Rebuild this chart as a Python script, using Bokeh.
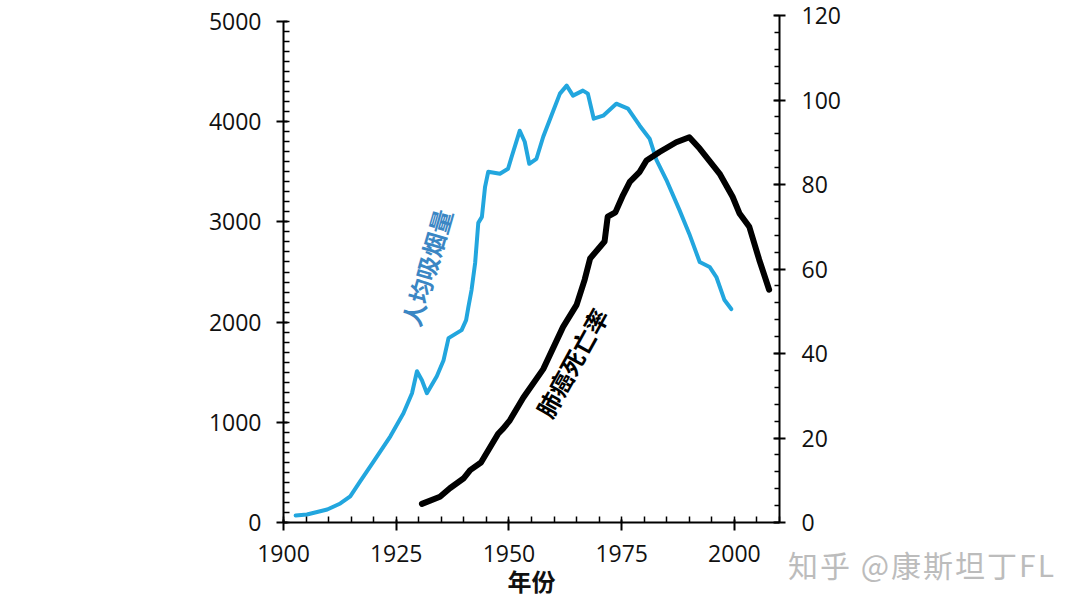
from bokeh.plotting import figure
from bokeh.models import Range1d, LinearAxis, FixedTicker, Label, Div
from bokeh.layouts import column
from bokeh.embed import file_html
from bokeh.resources import INLINE

# ---- data ----
smoke_years = [1902.7, 1905.2, 1909.7, 1912.6, 1914.8, 1917.0, 1920.0, 1923.7, 1926.6, 1928.5,
               1929.6, 1930.7, 1931.8, 1934.0, 1935.5, 1936.6, 1939.5, 1940.5, 1941.0, 1941.7,
               1942.5, 1943.2, 1944.0, 1944.7, 1945.4, 1948.0, 1949.8, 1950.6, 1952.4, 1953.5,
               1954.5, 1956.1, 1957.6, 1959.4, 1961.3, 1962.8, 1964.2, 1966.4, 1967.5, 1968.8,
               1970.9, 1973.8, 1976.4, 1979.0, 1981.2, 1982.7, 1984.9, 1987.8, 1990.0, 1992.3,
               1994.5, 1996.0, 1997.8, 1999.3]
smoke_per_capita = [70, 80, 130, 190, 260, 410, 610, 860, 1090, 1290,
                    1510, 1420, 1290, 1460, 1620, 1840, 1920, 2020, 2150, 2320,
                    2590, 2990, 3050, 3350, 3500, 3480, 3530, 3650, 3910, 3800,
                    3580, 3630, 3850, 4060, 4280, 4360, 4260, 4310, 4280, 4030,
                    4060, 4180, 4130, 3960, 3830, 3620, 3420, 3120, 2880, 2600,
                    2550, 2450, 2220, 2130]

cancer_years = [1930.7, 1934.7, 1936.9, 1939.9, 1941.4, 1943.8, 1947.6, 1948.7, 1950.2, 1953.2,
                1957.6, 1962.0, 1965.0, 1966.8, 1968.0, 1969.6, 1971.2, 1971.9, 1973.6, 1975.3,
                1976.8, 1979.0, 1980.5, 1983.4, 1987.1, 1990.0, 1992.3, 1996.7, 1999.6, 2001.1,
                2003.3, 2005.5, 2007.7]
cancer_rate = [4.4, 6.1, 8.1, 10.4, 12.4, 14.2, 21.0, 22.2, 24.2, 29.6,
               36.3, 46.3, 51.5, 57.5, 62.5, 64.5, 66.5, 72.4, 73.4, 77.5,
               80.6, 83.0, 85.7, 87.7, 90.0, 91.2, 88.5, 82.6, 77.1, 73.2,
               70.0, 62.2, 55.1]

x_ticks = [1900, 1925, 1950, 1975, 2000]
left_ticks = [0, 1000, 2000, 3000, 4000, 5000]
right_ticks = [0, 20, 40, 60, 80, 100, 120]

smoke_label = "人均吸烟量"
cancer_label = "肺癌死亡率"
x_title = "年份"
watermark = "知乎 @康斯坦丁FL"

FONT = "Open Sans"
CJK = "Noto Sans CJK SC"

W, H = 1072, 600
FRAME_L, FRAME_R, FRAME_T, FRAME_B = 283, 779, 15, 522
left_max = 5000 * (FRAME_B - FRAME_T) / (FRAME_B - 21)

p = figure(width=W, height=H, output_backend="svg", toolbar_location=None,
           x_range=Range1d(1900, 2010), y_range=Range1d(0, left_max),
           min_border_left=FRAME_L, min_border_right=W - FRAME_R,
           min_border_top=FRAME_T, min_border_bottom=H - FRAME_B)
p.outline_line_color = None
p.xgrid.visible = False
p.ygrid.visible = False
p.background_fill_color = "white"
p.border_fill_color = "white"

p.extra_y_ranges = {"right": Range1d(0, 120)}

# bottom axis
xa = p.xaxis[0]
xa.ticker = FixedTicker(ticks=x_ticks, minor_ticks=list(range(1900, 2011, 5)))
xa.bounds = (1900, 2010)
xa.axis_label = x_title
xa.axis_label_text_font = CJK
xa.axis_label_text_font_style = "bold"
xa.axis_label_text_font_size = "24px"
xa.axis_label_text_color = "#111111"
xa.axis_label_standoff = -2

# left axis
ya = p.yaxis[0]
ya.ticker = FixedTicker(ticks=left_ticks, minor_ticks=list(range(0, 5001, 100)))
ya.bounds = (0, 5000)

# right axis
ra = LinearAxis(y_range_name="right",
                ticker=FixedTicker(ticks=right_ticks, minor_ticks=list(range(0, 121, 4))))
ra.bounds = (0, 120)
p.add_layout(ra, "right")

for ax in (xa, ya, ra):
    ax.axis_line_width = 2
    ax.axis_line_color = "black"
    ax.major_tick_line_width = 2
    ax.minor_tick_line_width = 1.5
    ax.major_tick_line_color = "black"
    ax.minor_tick_line_color = "black"
    ax.major_label_text_font = FONT
    ax.major_label_text_font_size = "23px"
    ax.major_label_text_color = "#111111"

xa.major_tick_out = 8
xa.major_tick_in = 3
xa.minor_tick_in = 6
xa.minor_tick_out = 0
xa.major_label_standoff = 14

ya.major_tick_out = 7
ya.major_tick_in = 4
ya.minor_tick_in = 6
ya.minor_tick_out = 0
ya.major_label_standoff = 15

ra.major_tick_out = 6
ra.major_tick_in = 6
ra.minor_tick_in = 5
ra.minor_tick_out = 0
ra.major_label_standoff = 16

# lines
p.line(smoke_years, smoke_per_capita, line_color="#22a6de", line_width=4,
       line_join="round", line_cap="round")
p.line(cancer_years, cancer_rate, y_range_name="right", line_color="black", line_width=6,
       line_join="round", line_cap="round")

# curve labels
p.add_layout(Label(x=1931.7, y=2545, text=smoke_label, angle=1.29,
                   text_font=CJK, text_font_size="24px", text_font_style="bold",
                   text_color="#3a86c4", text_align="center", text_baseline="middle"))
p.add_layout(Label(x=1963.9, y=1597, text=cancer_label, angle=1.065,
                   text_font=CJK, text_font_size="24px", text_font_style="bold",
                   text_color="black", text_align="center", text_baseline="middle"))

# watermark (outside the plot frame, so as an HTML element pulled up over the figure)
wm = Div(text=watermark, width=280, height=40, margin=(-56, 0, 0, 788),
         styles={"color": "#bcbcbc", "font-size": "30px", "font-family": CJK,
                 "line-height": "40px", "white-space": "nowrap", "letter-spacing": "2px"})

layout = column(p, wm, spacing=0)
open("out.html", "w").write(file_html(layout, INLINE))
